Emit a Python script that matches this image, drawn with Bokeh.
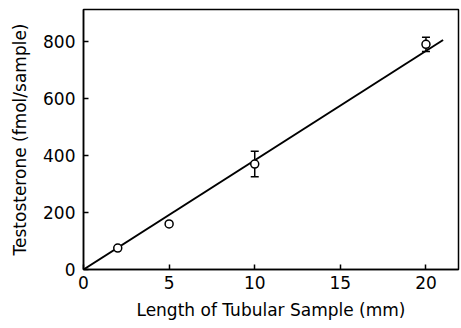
from bokeh.plotting import figure
from bokeh.models import Range1d, Whisker, ColumnDataSource, FixedTicker
from bokeh.embed import file_html
from bokeh.resources import INLINE

# Data
length_mm = [2, 5, 10, 20]
testosterone = [75, 160, 370, 790]
err = [0, 0, 45, 25]
fit_x = [0, 21]
fit_y = [0, 805]
x_ticks = [0, 5, 10, 15, 20]
y_ticks = [0, 200, 400, 600, 800]

p = figure(width=460, height=326, output_backend="svg", toolbar_location=None,
           x_range=Range1d(0, 21.9), y_range=Range1d(0, 912),
           min_border_left=83, min_border_right=2, min_border_top=9, min_border_bottom=57)

p.grid.visible = False
p.background_fill_color = "white"
p.border_fill_color = "white"
p.outline_line_color = "black"
p.outline_line_width = 1.5

p.line(fit_x, fit_y, line_color="black", line_width=2)

upper = [v + e for v, e in zip(testosterone, err)]
lower = [v - e for v, e in zip(testosterone, err)]
src = ColumnDataSource(dict(x=[length_mm[i] for i in range(4) if err[i] > 0],
                            upper=[upper[i] for i in range(4) if err[i] > 0],
                            lower=[lower[i] for i in range(4) if err[i] > 0]))
w = Whisker(source=src, base="x", upper="upper", lower="lower", line_color="black", line_width=1.5)
w.upper_head.line_color = "black"
w.lower_head.line_color = "black"
w.upper_head.size = 8
w.lower_head.size = 8
w.upper_head.line_width = 1.5
w.lower_head.line_width = 1.5
p.add_layout(w)

p.scatter(length_mm, testosterone, marker="circle", size=8, fill_color="white",
          line_color="black", line_width=1.5)

for ax in (p.xaxis[0], p.yaxis[0]):
    ax.axis_line_width = 1.5
    ax.major_tick_line_width = 1.5
    ax.major_tick_in = 5
    ax.major_tick_out = 0
    ax.minor_tick_line_color = None
    ax.major_label_text_font = "DejaVu Sans"
    ax.major_label_text_font_size = "17px"
    ax.major_label_text_font_style = "normal"
    ax.major_label_text_color = "black"
    ax.axis_label_text_font = "DejaVu Sans"
    ax.axis_label_text_font_size = "17px"
    ax.axis_label_text_font_style = "normal"
    ax.axis_label_text_color = "black"

p.xaxis.ticker = FixedTicker(ticks=x_ticks)
p.yaxis.ticker = FixedTicker(ticks=y_ticks)
p.xaxis.axis_label = "Length of Tubular Sample (mm)"
p.yaxis.axis_label = "Testosterone (fmol/sample)"
p.xaxis.major_label_standoff = 6
p.yaxis.major_label_standoff = 8
p.xaxis.axis_label_standoff = 8
p.yaxis.axis_label_standoff = 10

open("out.html", "w").write(file_html(p, INLINE))
